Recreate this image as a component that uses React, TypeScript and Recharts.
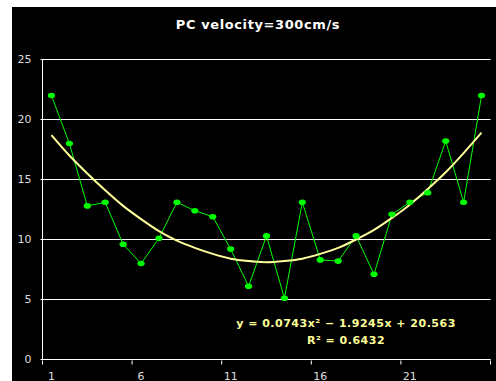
import React from 'react';
import { LineChart, Line, XAxis, YAxis, CartesianGrid } from 'recharts';

// point index along the x axis
const categories = [1, 2, 3, 4, 5, 6, 7, 8, 9, 10, 11, 12, 13, 14, 15, 16, 17, 18, 19, 20, 21, 22, 23, 24, 25];
// measured values
const measured = [22.0, 18.0, 12.8, 13.1, 9.6, 8.0, 10.1, 13.1, 12.4, 11.9, 9.2, 6.1, 10.3, 5.1, 13.1, 8.3, 8.2, 10.3, 7.1, 12.1, 13.1, 13.9, 18.2, 13.1, 22.0];
// polynomial trendline
const trend = [18.7, 17.0, 15.5, 14.1, 12.8, 11.7, 10.7, 9.9, 9.3, 8.8, 8.4, 8.2, 8.1, 8.2, 8.4, 8.8, 9.3, 10.0, 10.8, 11.8, 12.9, 14.2, 15.6, 17.2, 18.9];
const yTicks = [0, 5, 10, 15, 20, 25];
// tick marks sit on band edges, labels in the band centre
const xTickMarks = [0.5, 5.5, 10.5, 15.5, 20.5, 25.5];
const xTickLabels = ['1', '6', '11', '16', '21'];

const title = 'PC velocity=300cm/s';
const equation = 'y = 0.0743x\u00b2 \u2212 1.9245x + 20.563';
const rSquared = 'R\u00b2 = 0.6432';

const data = categories.map((c, i) => ({ x: c, measured: measured[i], trend: trend[i] }));

const FONT = '"DejaVu Sans", sans-serif';
const HALF_BAND = 448 / 25 / 2;

const XTick = ({ x, y, index }: any) => (
  <g>
    <line x1={x} x2={x} y1={y - 3} y2={y - 7} stroke="#ffffff" strokeWidth={1} />
    {xTickLabels[index] && (
      <text x={x + HALF_BAND} y={y + 12} textAnchor="middle" fill="#dddddd" fontSize={11} fontFamily={FONT}>
        {xTickLabels[index]}
      </text>
    )}
  </g>
);

const Dot = ({ cx, cy }: any) => <ellipse cx={cx} cy={cy} rx={3.6} ry={2.8} fill="#00ff00" />;

export default function App() {
  return (
    <div style={{ position: 'absolute', left: 12, top: 7, width: 484, height: 374, background: '#000000' }}>
      <div
        style={{
          position: 'absolute', left: 0, width: 492, top: 10, textAlign: 'center', letterSpacing: '0.6px',
          color: '#ffffff', fontFamily: FONT, fontWeight: 'bold', fontSize: 13,
        }}
      >
        {title}
      </div>
      <LineChart width={484} height={374} data={data} margin={{ top: 52.5, right: 5.5, left: 0.5, bottom: 0 }}>
        <CartesianGrid vertical={false} stroke="#ffffff" strokeWidth={1} />
        <XAxis
          dataKey="x"
          type="number"
          domain={[0.5, 25.5]}
          ticks={xTickMarks}
          interval={0}
          height={21.5}
          axisLine={{ stroke: '#ffffff', strokeWidth: 1 }}
          tickLine={false}
          tick={<XTick />}
        />
        <YAxis
          type="number"
          domain={[0, 25]}
          ticks={yTicks}
          width={30}
          axisLine={{ stroke: '#ffffff', strokeWidth: 1 }}
          tickLine={{ stroke: '#ffffff' }}
          tickSize={2}
          tickMargin={9}
          tick={{ fill: '#dddddd', fontSize: 11, fontFamily: FONT }}
        />
        <Line
          dataKey="measured"
          type="linear"
          stroke="#00ff00"
          strokeWidth={1}
          dot={<Dot />}
          activeDot={false}
          isAnimationActive={false}
        />
        <Line
          dataKey="trend"
          type="monotone"
          stroke="#ffff99"
          strokeWidth={2}
          dot={false}
          activeDot={false}
          isAnimationActive={false}
        />
      </LineChart>
      <div
        style={{
          position: 'absolute', left: 134, width: 400, top: 308, textAlign: 'center', lineHeight: '17px',
          color: '#ffff99', fontFamily: FONT, fontWeight: 'bold', fontSize: 11, whiteSpace: 'nowrap',
          letterSpacing: '0.5px',
        }}
      >
        <div>{equation}</div>
        <div>{rSquared}</div>
      </div>
    </div>
  );
}
